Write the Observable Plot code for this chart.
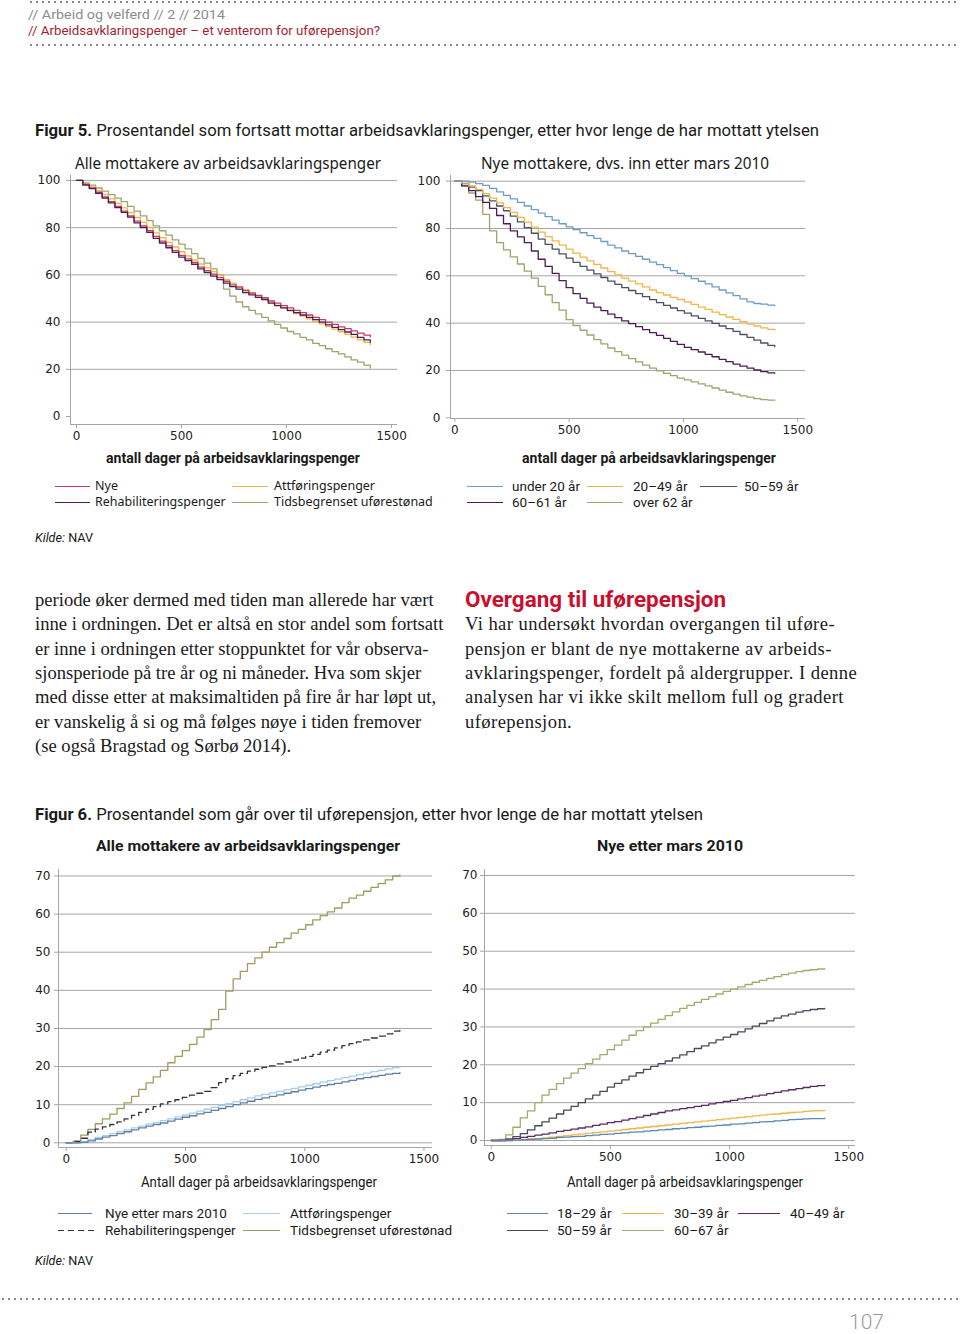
<!DOCTYPE html>
<html><head><meta charset="utf-8">
<script src="https://cdn.jsdelivr.net/npm/d3@7"></script>
<script src="https://cdn.jsdelivr.net/npm/@observablehq/plot@0.6"></script>
<style>
html,body{margin:0;padding:0;background:#fff;}
body{width:960px;height:1334px;position:relative;overflow:hidden;font-family:Roboto,sans-serif;color:#1a1a1a;}
.a{position:absolute;white-space:nowrap;line-height:1;}
.dots{position:absolute;height:4px;background-image:radial-gradient(circle,#8a8a8a 0.9px,transparent 1.4px);background-size:6px 4px;background-repeat:repeat-x;}
.serif{font-family:"Liberation Serif","Times New Roman",serif;font-size:18.6px;color:#1a1a1a;}
.rc{letter-spacing:0.42px;}
.sw{position:absolute;height:1.5px;}
</style></head><body>

<div class="dots" style="left:28px;top:0px;width:932px"></div>
<div class="a" data-w="197" style="left:28px;top:8px;font-size:13.5px;color:#8c8c8c">//  Arbeid og velferd  //  2  // 2014</div>
<div class="a" data-w="352" style="left:28px;top:24px;font-size:13.5px;color:#a51f35">//  Arbeidsavklaringspenger – et venterom for uførepensjon?</div>
<div class="dots" style="left:28px;top:43px;width:932px"></div>

<div class="a" data-w="784" style="left:35px;top:122px;font-size:17px;color:#1a1a1a"><b>Figur 5.</b> Prosentandel som fortsatt mottar arbeidsavklaringspenger, etter hvor lenge de har mottatt ytelsen</div>
<div class="a" data-w="306" style="left:75px;top:155px;font-size:16px;font-family:'Noto Sans';color:#1a1a1a">Alle mottakere av arbeidsavklaringspenger</div>
<div class="a" data-w="288" style="left:481px;top:155px;font-size:16px;font-family:'Noto Sans';color:#1a1a1a">Nye mottakere, dvs. inn etter mars 2010</div>
<div class="a" data-w="254" style="left:106px;top:451px;font-size:14px;font-weight:bold;color:#1a1a1a">antall dager på arbeidsavklaringspenger</div>
<div class="a" data-w="254" style="left:522px;top:451px;font-size:14px;font-weight:bold;color:#1a1a1a">antall dager på arbeidsavklaringspenger</div>
<div class="a" data-w="58" style="left:35px;top:531px;font-size:13px"><i>Kilde:</i> NAV</div>

<div class="serif a" style="left:35px;top:591px">periode øker dermed med tiden man allerede har vært</div>
<div class="serif a" style="left:35px;top:615px">inne i ordningen. Det er altså en stor andel som fortsatt</div>
<div class="serif a" style="left:35px;top:640px">er inne i ordningen etter stoppunktet for vår observa-</div>
<div class="serif a" style="left:35px;top:664px">sjonsperiode på tre år og ni måneder. Hva som skjer</div>
<div class="serif a" style="left:35px;top:688px">med disse etter at maksimaltiden på fire år har løpt ut,</div>
<div class="serif a" style="left:35px;top:713px">er vanskelig å si og må følges nøye i tiden fremover</div>
<div class="serif a" style="left:35px;top:737px">(se også Bragstad og Sørbø 2014).</div>

<div class="a" data-w="261" style="left:465px;top:589px;font-size:22px;font-weight:bold;color:#c8102e">Overgang til uførepensjon</div>
<div class="serif rc a" style="left:465px;top:615px">Vi har undersøkt hvordan overgangen til uføre-</div>
<div class="serif rc a" style="left:465px;top:640px">pensjon er blant de nye mottakerne av arbeids-</div>
<div class="serif rc a" style="left:465px;top:664px">avklaringspenger, fordelt på aldergrupper. I denne</div>
<div class="serif rc a" style="left:465px;top:688px">analysen har vi ikke skilt mellom full og gradert</div>
<div class="serif rc a" style="left:465px;top:713px">uførepensjon.</div>

<div class="a" data-w="668" style="left:35px;top:806px;font-size:17px;color:#1a1a1a"><b>Figur 6.</b> Prosentandel som går over til uførepensjon, etter hvor lenge de har mottatt ytelsen</div>
<div class="a" data-w="304" style="left:96px;top:839px;font-size:15.5px;font-weight:bold;color:#1a1a1a">Alle mottakere av arbeidsavklaringspenger</div>
<div class="a" data-w="146" style="left:597px;top:839px;font-size:15.5px;font-weight:bold;color:#1a1a1a">Nye etter mars 2010</div>
<div class="a" data-w="236" style="left:141px;top:1175px;font-size:14px;color:#1a1a1a">Antall dager på arbeidsavklaringspenger</div>
<div class="a" data-w="236" style="left:567px;top:1175px;font-size:14px;color:#1a1a1a">Antall dager på arbeidsavklaringspenger</div>
<div class="a" data-w="58" style="left:35px;top:1254px;font-size:13px"><i>Kilde:</i> NAV</div>

<div class="dots" style="left:0px;top:1297px;width:960px"></div>
<div class="a" style="left:849px;top:1312px;font-size:21px;color:#9a9a9a;font-weight:300">107</div>

<script>
// ---------- DATA ----------
const dager = [0,30,61,91,122,152,183,213,243,274,304,335,365,395,426,456,487,517,548,578,608,639,669,700,730,760,791,821,852,882,913,943,973,1004,1034,1065,1095,1125,1156,1186,1217,1247,1278,1308,1338,1369,1399];
const xTicks = [0,500,1000,1500];
const yTicks5 = [0,20,40,60,80,100];
const yTicks6 = [0,10,20,30,40,50,60,70];

// Figur 5, venstre: alle mottakere
const f5vNavn = ["Nye","Rehabiliteringspenger","Attføringspenger","Tidsbegrenset uførestønad"];
const f5vNye   = [100,98.3,96.8,95,93,91,89,87,85,82.8,80.7,78.7,76.3,74.3,72.3,70.3,68.3,66.8,65.3,63.3,61.8,60.3,58.8,57.3,55.8,54.8,53.3,52.3,51.3,50.3,49,48,47,46,45,44,43,42,41,40,39,38,37.2,36.3,35.3,34.5,33.7];
const f5vRehab = [100,98,96.5,94.5,92.5,90.5,88.5,86.5,84.5,82,80,78,75.5,73.5,71.5,69.5,67.5,66,64.5,62.5,61,59.5,58,56.5,55,54,52.5,51.5,50.5,49.5,48,47,46,45,44,43,42,41,40,38.8,37.8,36.8,35.8,34.8,33.5,32.5,31.5];
const f5vAttf  = [100,98.7,97.3,95.7,94,92.2,90.3,88.4,86.4,84.3,82.2,80,77.8,75.8,73.8,71.8,69.8,68,66.3,64.6,63,61.4,59.8,58,56.5,55,53.7,52.4,51.1,49.8,48.5,47.2,46,44.8,43.6,42.5,41.4,40.3,39.2,38.1,37,35.9,34.8,33.6,32.5,31.4,30.4];
const f5vTids  = [100,99,98,96.8,95.5,94,92.5,91,89,87,85,83,80.8,78.7,76.8,74.8,73,71,69,67,65,62.5,60,54,51,48.5,46.5,45,43.5,42,40.5,39,37.5,36,35,33.5,32.5,31,30,28.7,27.5,26.5,25.3,24,23,21.8,20.5];

// Figur 5, høyre: nye mottakere etter alder
const f5hNavn = ["under 20 år","20–49 år","50–59 år","60–61 år","over 62 år"];
const f5hU20  = [100,100,99.6,99,98.2,97,95.5,94,92.5,91,89.5,88,86.5,85,83.5,82,80.7,79.5,78.2,77,75.8,74.5,73,71.8,70.5,69.4,68.2,67,65.8,64.7,63.5,62.2,61,60,58.8,57.7,56.6,55.3,54,52.8,51.6,50.3,49,48.3,48,47.6,47.4];
const f5h2049 = [100,99.2,98,96.5,94.7,92.8,90.8,88.8,86.8,84.7,82.7,80.6,78.5,76.6,74.8,73,71.3,69.6,67.9,66.3,64.8,63.3,61.8,60.4,59,57.8,56.6,55.3,54,52.9,51.9,50.9,50,49,47.9,46.8,45.8,44.7,43.6,42.6,41.6,40.6,39.6,38.8,38,37.4,37];
const f5h5059 = [100,99,97.5,96,93.8,91.7,89.5,87.5,85.2,82.8,80.4,78,75.5,73.3,71.3,69.3,67.5,65.7,64,62.4,60.8,59.3,57.8,56.4,55,53.8,52.5,51.2,49.9,48.7,47.5,46.4,45.3,44.2,43.1,42,41,39.9,38.8,37.7,36.5,35.2,34,32.8,31.6,30.6,30];
const f5h6061 = [100,98,96,93.5,91,88.5,85.5,82,79,76.5,74,70.5,67,64,61,58,55,52.5,50.5,48.5,46.8,45.3,43.8,42.3,41,39.8,38.5,37.3,36,34.8,33.6,32.3,31,29.8,28.8,27.8,26.8,25.8,24.7,23.7,22.7,21.8,21,20.2,19.5,19,18.8];
const f5hO62  = [100,98,95,92,86,79,74,71,68,65,62,59,55.5,52,48.7,45.5,41.5,39,37,35,33,31.2,29.5,28,26.5,25,23.6,22.3,21,19.8,18.8,17.8,16.8,16,15.2,14.3,13.5,12.6,11.7,10.8,10,9.3,8.7,8.1,7.7,7.5,7.4];

// Figur 6, venstre: alle mottakere
const f6vNavn = ["Nye etter mars 2010","Rehabiliteringspenger","Attføringspenger","Tidsbegrenset uførestønad"];
const f6vNye   = [0,0,0.1,0.5,1,1.5,1.9,2.4,2.9,3.4,3.9,4.4,4.8,5.2,5.7,6.2,6.7,7.1,7.6,8,8.5,9,9.5,10,10.5,10.9,11.4,11.8,12.2,12.6,13,13.4,13.8,14.2,14.6,15,15.3,15.6,16,16.4,16.8,17.1,17.4,17.7,18,18.2,18.4];
const f6vRehab = [0,0.3,1.2,2.8,3.6,4.2,4.8,5.5,6.3,7.2,8,8.8,9.5,10.2,10.8,11.3,11.9,12.5,13,13.5,14.5,15.8,16.8,17.6,18.2,18.8,19.3,19.8,20.2,20.7,21.2,21.7,22.2,22.7,23.2,23.8,24.3,24.9,25.5,26,26.5,27,27.5,28,28.6,29.3,29.9];
const f6vAttf  = [0,0,0.3,0.8,1.4,1.9,2.4,2.9,3.4,3.9,4.4,4.9,5.3,5.8,6.3,6.8,7.3,7.8,8.3,8.8,9.3,9.8,10.3,10.8,11.3,11.8,12.3,12.7,13.1,13.5,13.9,14.3,14.7,15.1,15.5,15.9,16.3,16.7,17.1,17.5,17.9,18.3,18.7,19,19.4,19.7,20];
const f6vTids  = [0,0.5,2,3.5,5,6.3,7.5,9,10.5,12.2,14,15.7,17.3,19,21,22.7,24.2,25.8,27.7,29.7,32.3,35,39.8,43,45,47,48.5,50,51.3,52.5,53.6,55,56,57.2,58.5,59.6,60.6,61.6,63,64.2,65,66,67,68,69,70,70.3];

// Figur 6, høyre: nye etter mars 2010, etter alder
const f6hNavn = ["18–29 år","30–39 år","40–49 år","50–59 år","60–67 år"];
const f6h1829 = [0,0,0,0.1,0.2,0.3,0.4,0.5,0.6,0.8,0.9,1,1.1,1.3,1.4,1.6,1.7,1.9,2,2.2,2.3,2.5,2.6,2.8,2.9,3.1,3.2,3.4,3.5,3.7,3.8,4,4.1,4.3,4.4,4.6,4.7,4.9,5,5.2,5.3,5.5,5.6,5.7,5.8,5.8,5.9];
const f6h3039 = [0,0,0,0.1,0.2,0.4,0.5,0.7,0.9,1.1,1.3,1.5,1.7,1.9,2.1,2.3,2.5,2.7,2.9,3.1,3.3,3.5,3.7,3.9,4.1,4.3,4.5,4.7,4.9,5.1,5.3,5.5,5.7,5.9,6.1,6.3,6.5,6.7,6.9,7,7.2,7.4,7.5,7.7,7.8,7.9,8];
const f6h4049 = [0,0,0.2,0.5,0.8,1.1,1.4,1.7,2,2.4,2.7,3,3.3,3.6,4,4.3,4.7,5,5.4,5.8,6.2,6.6,7,7.4,7.8,8.1,8.4,8.7,9,9.3,9.7,10,10.3,10.6,11,11.3,11.7,12,12.4,12.7,13.1,13.4,13.7,14,14.3,14.5,14.6];
const f6h5059 = [0,0,0.4,1,1.8,2.8,3.9,4.9,5.9,7,8,9,10,11,12,13,14.1,15.1,16,17,17.9,18.8,19.6,20.3,21,21.8,22.6,23.5,24.3,25,25.8,26.6,27.3,28,28.7,29.5,30.2,30.9,31.6,32.3,32.9,33.4,33.9,34.3,34.6,34.8,34.9];
const f6h6067 = [0,0.3,1.5,3.5,6,7.8,10,12,13.5,15,16.5,17.8,19,20.3,21.5,22.7,24,25.2,26.5,27.8,29,30,31,32,33,34,34.9,35.7,36.5,37.3,38,38.7,39.4,40,40.6,41.2,41.8,42.3,42.8,43.3,43.8,44.2,44.6,44.9,45.1,45.3,45.4];

// ---------- DRAWING ----------
const GRID = "#a5a5a5";
function diagram(o){
  const marks = [
    Plot.ruleY(o.grid, {stroke: GRID, strokeWidth: 1}),
    Plot.ruleX([o.xd[0]], {y1: o.yd[0], y2: o.yd[1], stroke: GRID}),
    Plot.ruleY([o.yd[0]], {stroke: GRID}),
    Plot.axisY(o.yt, {anchor: "left", tickSize: 4, tickPadding: o.tp, stroke: GRID, fill: "#222", label: null, tickFormat: d => String(d)}),
    Plot.axisX(xTicks, {anchor: "bottom", tickSize: 4, tickPadding: 3, stroke: GRID, fill: "#222", label: null, tickFormat: d => String(d)})
  ];
  o.serier.forEach(s => {
    const rows = dager.map((d, i) => ({dag: d, verdi: s.v[i]}));
    const opt = {x: "dag", y: "verdi", curve: "step-after", stroke: s.c, strokeWidth: 1.3};
    if (s.dash) opt.strokeDasharray = s.dash;
    marks.push(Plot.line(rows, opt));
  });
  const svg = Plot.plot({
    width: o.w, height: o.h,
    marginLeft: o.ml, marginRight: o.mr, marginTop: o.mt, marginBottom: o.mb,
    x: {domain: o.xd, label: null},
    y: {domain: o.yd, label: null},
    style: {fontFamily: "DejaVu Sans", fontSize: "12px", background: "transparent", overflow: "visible"},
    marks
  });
  const wrap = document.createElement("div");
  wrap.className = "a";
  wrap.style.left = o.left + "px";
  wrap.style.top = o.top + "px";
  wrap.appendChild(svg);
  document.body.appendChild(wrap);
}

const C = {nye:"#c33d5c", attf:"#f0b54a", rehab:"#4d1f57", tids:"#9fa36d",
  u20:"#6e9cc6", a2049:"#f0b54a", a5059:"#4b5065", a6061:"#4d1c55", o62:"#9fa36d",
  nye6:"#5f80a4", attf6:"#a9cde8", rehab6:"#333333", tids6:"#9d9d60",
  b1829:"#5b88b2", b3039:"#f0b54a", b4049:"#5a2a62", b5059:"#474a5c", b6067:"#a5a86c"};

diagram({left:0, top:160, w:410, h:290, ml:70, mr:13, mt:15, mb:26,
  xd:[-28.6,1528.6], yd:[-3.39,102.1], grid:[20,40,60,80,100], yt:yTicks5, tp:6,
  serier:[{v:f5vTids,c:C.tids},{v:f5vAttf,c:C.attf},{v:f5vNye,c:C.nye},{v:f5vRehab,c:C.rehab}]});
diagram({left:410, top:160, w:410, h:290, ml:40, mr:15, mt:15, mb:32,
  xd:[-18.8,1533.6], yd:[-0.3,102.4], grid:[20,40,60,80,100], yt:yTicks5, tp:6,
  serier:[{v:f5hO62,c:C.o62},{v:f5h6061,c:C.a6061},{v:f5h5059,c:C.a5059},{v:f5h2049,c:C.a2049},{v:f5hU20,c:C.u20}]});
diagram({left:0, top:860, w:440, h:320, ml:58, mr:8, mt:9, mb:33,
  xd:[-32.3,1535.8], yd:[-1.23,71.7], grid:yTicks6, yt:yTicks6, tp:4,
  serier:[{v:f6vTids,c:C.tids6},{v:f6vRehab,c:C.rehab6,dash:"6,4"},{v:f6vAttf,c:C.attf6},{v:f6vNye,c:C.nye6}]});
diagram({left:440, top:860, w:430, h:320, ml:44, mr:15, mt:9, mb:35,
  xd:[-28.1,1528.1], yd:[-1.32,71.58], grid:yTicks6, yt:yTicks6, tp:3,
  serier:[{v:f6h6067,c:C.b6067},{v:f6h5059,c:C.b5059},{v:f6h4049,c:C.b4049},{v:f6h3039,c:C.b3039},{v:f6h1829,c:C.b1829}]});

// ---------- LEGENDS ----------
function item(label, color, sx, sw, lx, cy, font, dash){
  const s = document.createElement("div");
  s.className = "sw";
  s.style.left = sx + "px";
  s.style.top = (cy - 0.5) + "px";
  s.style.width = sw + "px";
  s.style.background = dash
    ? `repeating-linear-gradient(90deg, ${color} 0 6px, transparent 6px 10px)`
    : color;
  document.body.appendChild(s);
  const t = document.createElement("div");
  t.className = "a";
  t.textContent = label;
  t.style.cssText += `left:${lx}px;top:${cy - 6.5}px;font-size:${font.size}px;font-family:${font.fam};color:#1a1a1a;`;
  document.body.appendChild(t);
}
const fA = {size:12.5, fam:"'Noto Sans'"};
const fB = {size:13.5, fam:"Roboto"};
item(f5vNavn[0], C.nye, 55, 35, 95, 486, fA);
item(f5vNavn[1], C.rehab, 55, 35, 95, 502, fA);
item(f5vNavn[2], C.attf, 232, 36, 274, 486, fA);
item(f5vNavn[3], C.tids, 232, 36, 274, 502, fA);

item(f5hNavn[0], C.u20, 467, 36, 512, 486, fB);
item(f5hNavn[1], C.a2049, 587, 36, 633, 486, fB);
item(f5hNavn[2], C.a5059, 700, 37, 744, 486, fB);
item(f5hNavn[3], C.a6061, 467, 36, 512, 502, fB);
item(f5hNavn[4], C.o62, 587, 36, 633, 502, fB);

item(f6vNavn[0], C.nye6, 58, 34, 105, 1213, fB);
item(f6vNavn[1], C.rehab6, 58, 36, 105, 1230, fB, true);
item(f6vNavn[2], C.attf6, 243, 37, 290, 1213, fB);
item(f6vNavn[3], C.tids6, 243, 37, 290, 1230, fB);

item(f6hNavn[0], C.b1829, 507, 41, 557, 1213, fB);
item(f6hNavn[1], C.b3039, 622, 42, 674, 1213, fB);
item(f6hNavn[2], C.b4049, 738, 42, 790, 1213, fB);
item(f6hNavn[3], C.b5059, 507, 41, 557, 1230, fB);
item(f6hNavn[4], C.b6067, 622, 42, 674, 1230, fB);

// fit headline widths
document.querySelectorAll("[data-w]").forEach(el => {
  const w = el.getBoundingClientRect().width;
  const t = +el.dataset.w;
  if (w > 0) { el.style.transformOrigin = "left center"; el.style.transform = `scaleX(${t / w})`; }
});
</script>
</body></html>
